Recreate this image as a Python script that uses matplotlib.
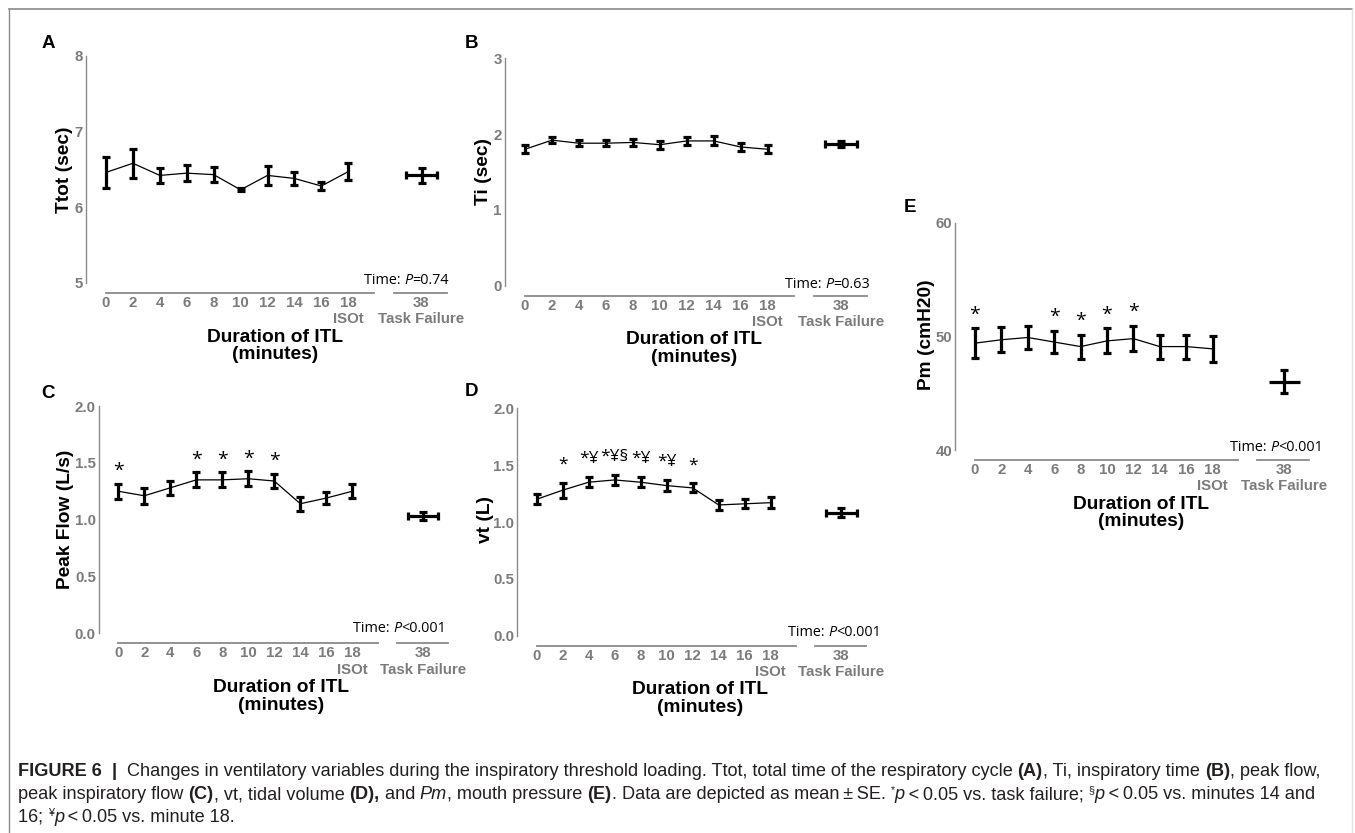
import matplotlib
matplotlib.use("Agg")
import matplotlib.pyplot as plt
import numpy as np
from matplotlib.lines import Line2D

# ---------------- data ----------------
minutes = [0, 2, 4, 6, 8, 10, 12, 14, 16, 18]
tf_minute = "38"
isot_label = "ISOt"
tf_label = "Task Failure"
tf_time_se = 0.58          # horizontal SE of task-failure time (axis units)

ttot_mean = [6.46, 6.58, 6.42, 6.45, 6.43, 6.23, 6.42, 6.38, 6.28, 6.47]
ttot_se = [0.20, 0.19, 0.10, 0.11, 0.10, 0.02, 0.12, 0.08, 0.05, 0.11]
ttot_tf, ttot_tf_se = 6.42, 0.10

ti_mean = [1.80, 1.92, 1.88, 1.88, 1.89, 1.86, 1.91, 1.91, 1.83, 1.80]
ti_se = [0.05, 0.04, 0.04, 0.04, 0.05, 0.05, 0.05, 0.06, 0.05, 0.05]
ti_tf, ti_tf_se = 1.87, 0.04

pf_mean = [1.25, 1.21, 1.28, 1.35, 1.35, 1.36, 1.34, 1.14, 1.19, 1.25]
pf_se = [0.065, 0.07, 0.06, 0.065, 0.065, 0.065, 0.065, 0.06, 0.05, 0.06]
pf_tf, pf_tf_se = 1.03, 0.035
pf_marks = ["*", "", "", "*", "*", "*", "*", "", "", ""]

vt_mean = [1.20, 1.28, 1.35, 1.37, 1.35, 1.32, 1.30, 1.15, 1.16, 1.17]
vt_se = [0.045, 0.065, 0.045, 0.045, 0.045, 0.045, 0.04, 0.045, 0.04, 0.05]
vt_tf, vt_tf_se = 1.08, 0.04
vt_marks = ["", "*", "*¥", "*¥§", "*¥", "*¥", "*", "", "", ""]

pm_mean = [49.4, 49.7, 49.9, 49.5, 49.1, 49.6, 49.8, 49.1, 49.1, 48.9]
pm_se = [1.3, 1.1, 1.05, 1.0, 1.05, 1.1, 1.1, 1.05, 1.05, 1.15]
pm_tf, pm_tf_se = 46.0, 1.0
pm_marks = ["*", "", "", "*", "*", "*", "*", "", "", ""]

p_texts = ["=0.74", "=0.63", "<0.001", "<0.001", "<0.001"]

# ---------------- layout ----------------
W, H = 1355, 833
fig = plt.figure(figsize=(W / 100, H / 100), dpi=100)
fig.patch.set_facecolor("white")
renderer = fig.canvas.get_renderer()

GRAY = "#7b7b7b"
AX_GRAY = "#8a8a8a"
FONT = "Liberation Sans"
TFONT = "Open Sans"

def fx(x):
    return x / W

def fy(y):
    return 1 - y / H

TF_POS = 11.72
XL, XR = -0.76, 12.9

panels = [
    dict(letter="A", mean=ttot_mean, se=ttot_se, tf=ttot_tf, tfse=ttot_tf_se, marks=None,
         x0=106, step=26.92, ybot=283, ytop=55.7, ylim=(5, 8), yticks=[5, 6, 7, 8],
         yfmt="{:.0f}", ylabel="Ttot (sec)", ylab_xy=(65, 170), letter_xy=(48, 44),
         time_xy=(449, 279), p=p_texts[0], xcap=True, mark_off=0),
    dict(letter="B", mean=ti_mean, se=ti_se, tf=ti_tf, tfse=ti_tf_se, marks=None,
         x0=525, step=26.97, ybot=285.7, ytop=58.3, ylim=(0, 3), yticks=[0, 1, 2, 3],
         yfmt="{:.0f}", ylabel="Ti (sec)", ylab_xy=(484, 171), letter_xy=(471, 44),
         time_xy=(870, 282), p=p_texts[1], xcap=True, mark_off=0),
    dict(letter="C", mean=pf_mean, se=pf_se, tf=pf_tf, tfse=pf_tf_se, marks=pf_marks,
         x0=118.3, step=26.0, ybot=633.3, ytop=406, ylim=(0, 2), yticks=[0, 0.5, 1, 1.5, 2],
         yfmt="{:.1f}", ylabel="Peak Flow (L/s)", ylab_xy=(66, 519), letter_xy=(48, 393),
         time_xy=(446, 627), p=p_texts[2], xcap=True, mark_off=13, mark_size=14),
    dict(letter="D", mean=vt_mean, se=vt_se, tf=vt_tf, tfse=vt_tf_se, marks=vt_marks,
         x0=536.7, step=26.0, ybot=635.7, ytop=408.3, ylim=(0, 2), yticks=[0, 0.5, 1, 1.5, 2],
         yfmt="{:.1f}", ylabel="vt (L)", ylab_xy=(486, 520), letter_xy=(471, 392),
         time_xy=(881, 630), p=p_texts[3], xcap=True, mark_off=18, mark_size=12.5),
    dict(letter="E", mean=pm_mean, se=pm_se, tf=pm_tf, tfse=pm_tf_se, marks=pm_marks,
         x0=975, step=26.4, ybot=450, ytop=222.7, ylim=(40, 60), yticks=[40, 50, 60],
         yfmt="{:.0f}", ylabel="Pm (cmH20)", ylab_xy=(927, 335), letter_xy=(910, 207),
         time_xy=(1323, 446), p=p_texts[4], xcap=False, mark_off=14, mark_size=14),
]

def text_w(s, **props):
    t = fig.text(0, 0, "|" + s + "|", **props)
    w1 = t.get_window_extent(renderer).width
    t.remove()
    t = fig.text(0, 0, "||", **props)
    w2 = t.get_window_extent(renderer).width
    t.remove()
    return w1 - w2

def draw_runs(x, y, runs, ha="left"):
    """runs: list of (text, props, dy_px); x,y in pixels (y from top, baseline)."""
    widths = [text_w(s, **pr) for s, pr, dy in runs]
    total = sum(widths)
    cx = x - total if ha == "right" else x
    for (s, pr, dy), w in zip(runs, widths):
        fig.text(fx(cx), fy(y - dy), s, ha="left", va="baseline", **pr)
        cx += w

for P in panels:
    left = P["x0"] + XL * P["step"]
    width = (XR - XL) * P["step"]
    height = P["ybot"] - P["ytop"]
    ax = fig.add_axes([fx(left), fy(P["ybot"]), width / W, height / H])
    ax.set_xlim(XL, XR)
    ax.set_ylim(*P["ylim"])
    ax.patch.set_alpha(0)

    pos = np.arange(len(minutes))
    ax.plot(pos, P["mean"], color="black", lw=0.9, zorder=2)
    ax.errorbar(pos, P["mean"], yerr=P["se"], fmt="none", ecolor="black",
                elinewidth=2.3, capsize=3.2, capthick=2.3, zorder=3, clip_on=False)
    ax.errorbar([TF_POS], [P["tf"]], yerr=[P["tfse"]], fmt="none", ecolor="black",
                elinewidth=2.3, capsize=3.2, capthick=2.3, zorder=3)
    ax.errorbar([TF_POS], [P["tf"]], xerr=[tf_time_se], fmt="none", ecolor="black",
                elinewidth=2.3, capsize=3.2 if P["xcap"] else 0, capthick=2.3, zorder=3)

    if P["marks"]:
        for i, m in enumerate(P["marks"]):
            if m:
                ax.annotate(m, (pos[i], P["mean"][i] + P["se"][i]),
                            xytext=(0, P["mark_off"] * 0.72), textcoords="offset points",
                            ha="center", va="center", fontsize=P["mark_size"],
                            family=TFONT, color="black")

    # spines
    for s in ["top", "right", "bottom"]:
        ax.spines[s].set_visible(False)
    ax.spines["left"].set_color(AX_GRAY)
    ax.spines["left"].set_linewidth(1.0)

    # y ticks
    ax.set_yticks(P["yticks"])
    ax.set_yticklabels([P["yfmt"].format(v) for v in P["yticks"]])
    ax.tick_params(axis="y", length=0, pad=2, labelsize=10.8, labelcolor=GRAY)
    for lab in ax.get_yticklabels():
        lab.set_fontweight("bold")
        lab.set_family(FONT)

    # x ticks
    xt = list(pos) + [TF_POS]
    xl = [str(m) for m in minutes[:-1]] + [str(minutes[-1]) + "\n" + isot_label,
                                          tf_minute + "\n" + tf_label]
    ax.set_xticks(xt)
    ax.set_xticklabels(xl, linespacing=1.2)
    ax.tick_params(axis="x", length=0, pad=9.4, labelsize=10.8, labelcolor=GRAY)
    for lab in ax.get_xticklabels():
        lab.set_fontweight("bold")
        lab.set_family(FONT)

    # x axis segments
    yoff = -10.0 / height
    ax.plot([0, 9.97], [yoff, yoff], transform=ax.get_xaxis_transform(),
            color=AX_GRAY, lw=1.3, clip_on=False)
    ax.plot([10.7, 12.67], [yoff, yoff], transform=ax.get_xaxis_transform(),
            color=AX_GRAY, lw=1.3, clip_on=False)

    # labels
    ax.set_xlabel("Duration of ITL\n(minutes)", fontsize=13.8, fontweight="bold",
                  family=FONT, color="black", linespacing=1.05, va="center")
    ax.xaxis.set_label_coords(0.515, -63.0 / height)
    ax.set_ylabel(P["ylabel"], fontsize=13.8, fontweight="bold", family=FONT,
                  color="black", va="center")
    ax.yaxis.set_label_coords((P["ylab_xy"][0] - left) / width,
                              (P["ybot"] - P["ylab_xy"][1]) / height)

    fig.text(fx(P["letter_xy"][0]), fy(P["letter_xy"][1]), P["letter"], ha="center",
             va="center", fontsize=13.5, fontweight="bold", family=FONT, color="black")

    # Time: P=...
    tp = dict(family=TFONT, fontsize=10.4, color="black")
    tpi = dict(family=TFONT, fontsize=10.4, color="black", style="italic")
    draw_runs(P["time_xy"][0], P["time_xy"][1] + 5.5,
              [("Time: ", tp, 0), ("P", tpi, 0), (P["p"], tp, 0)], ha="right")

# frame
fig.add_artist(Line2D([fx(9), fx(9)], [0, fy(9)], transform=fig.transFigure,
                      color="#8a8a8a", lw=1.0))
fig.add_artist(Line2D([fx(9), fx(1352)], [fy(9), fy(9)], transform=fig.transFigure,
                      color="#8a8a8a", lw=1.2))
fig.add_artist(Line2D([fx(1352), fx(1352)], [0, fy(9)], transform=fig.transFigure,
                      color="#e2e2e2", lw=1.0))

# caption
CS = 13.1
CC = "#231f20"
n = dict(family=FONT, fontsize=CS, color=CC)
b = dict(family=FONT, fontsize=CS, color=CC, fontweight="bold")
it = dict(family=FONT, fontsize=CS, color=CC, style="italic")
sup = dict(family=FONT, fontsize=CS * 0.6, color=CC)

line1 = [("FIGURE 6", b, 0), ("  |  ", b, 0),
         ("Changes in ventilatory variables during the inspiratory threshold loading. Ttot, total time of the respiratory cycle ", n, 0),
         ("(A)", b, 0), (", Ti, inspiratory time ", n, 0), ("(B)", b, 0), (", peak flow,", n, 0)]
line2 = [("peak inspiratory flow ", n, 0), ("(C)", b, 0), (", vt, tidal volume ", n, 0),
         ("(D),", b, 0), (" and ", n, 0), ("Pm", it, 0), (", mouth pressure ", n, 0),
         ("(E)", b, 0), (". Data are depicted as mean\u2009\u00b1\u2009SE. ", n, 0),
         ("*", sup, 6), ("p", it, 0), ("\u2009<\u20090.05 vs. task failure; ", n, 0),
         ("\u00a7", sup, 6), ("p", it, 0), ("\u2009<\u20090.05 vs. minutes 14 and", n, 0)]
line3 = [("16; ", n, 0), ("\u00a5", sup, 6), ("p", it, 0), ("\u2009<\u20090.05 vs. minute 18.", n, 0)]

draw_runs(18, 776, line1)
draw_runs(18, 799, line2)
draw_runs(18, 822, line3)

fig.savefig("out.png", dpi=100, facecolor="white")
